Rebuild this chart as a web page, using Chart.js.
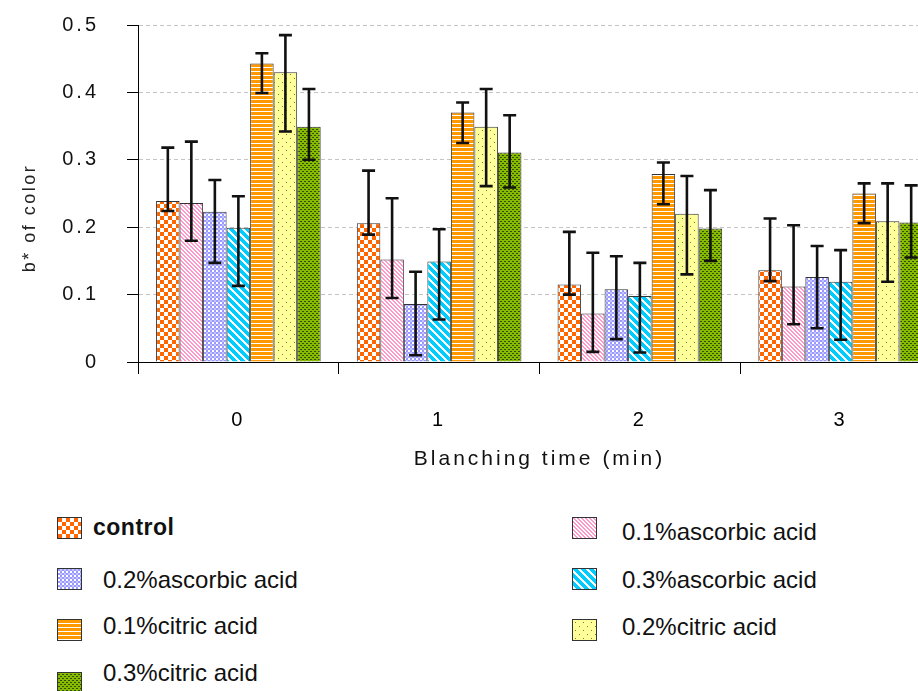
<!DOCTYPE html>
<html>
<head>
<meta charset="utf-8">
<script src="https://cdn.jsdelivr.net/npm/chart.js@4.4.0/dist/chart.umd.min.js"></script>
<style>
  body { margin: 0; width: 918px; height: 691px; overflow: hidden; position: relative; background: #fff; font-family: "Liberation Sans", Arial, sans-serif; }
  #wrap { position: absolute; left: 0; top: 0; width: 945px; height: 480px; }
  .sw { position: absolute; width: 25px; height: 22px; box-sizing: border-box; border: 1px solid #333; }
  .lt { position: absolute; font-size: 24px; line-height: 28px; color: #111; white-space: nowrap; }
</style>
</head>
<body>
<div id="wrap"><canvas id="chart"></canvas></div>
<div id="legend"></div>
<script>
const times = ['0', '1', '2', '3'];
const seriesNames = ['control', '0.1%ascorbic acid', '0.2%ascorbic acid', '0.3%ascorbic acid',
                     '0.1%citric acid', '0.2%citric acid', '0.3%citric acid'];
const yTicks = [0, 0.1, 0.2, 0.3, 0.4, 0.5];
const yTitle = 'b* of color';

// mean b* values per treatment, one entry per blanching time
const control  = [0.239, 0.206, 0.115, 0.136];
const ascorb01 = [0.236, 0.152, 0.072, 0.112];
const ascorb02 = [0.223, 0.086, 0.108, 0.126];
const ascorb03 = [0.199, 0.149, 0.098, 0.119];
const citric01 = [0.443, 0.370, 0.279, 0.250];
const citric02 = [0.430, 0.349, 0.220, 0.209];
const citric03 = [0.349, 0.311, 0.198, 0.207];

// error bar ends (upper / lower) as drawn
const errHigh = [
  [0.318, 0.284, 0.193, 0.213],
  [0.327, 0.243, 0.162, 0.203],
  [0.270, 0.134, 0.157, 0.172],
  [0.246, 0.197, 0.147, 0.166],
  [0.458, 0.385, 0.296, 0.265],
  [0.485, 0.405, 0.276, 0.265],
  [0.405, 0.366, 0.255, 0.262]
];
const errLow = [
  [0.224, 0.189, 0.100, 0.120],
  [0.180, 0.095, 0.015, 0.056],
  [0.147, 0.010, 0.034, 0.050],
  [0.113, 0.063, 0.014, 0.033],
  [0.399, 0.325, 0.234, 0.206],
  [0.342, 0.261, 0.130, 0.119],
  [0.300, 0.259, 0.150, 0.155]
];

const seriesData = [control, ascorb01, ascorb02, ascorb03, citric01, citric02, citric03];

// little tile canvases for the hatched fills
function tile(size, draw) {
  const c = document.createElement('canvas');
  c.width = size; c.height = size;
  const g = c.getContext('2d');
  g.fillStyle = '#fff';
  g.fillRect(0, 0, size, size);
  draw(g, size);
  return c;
}

const tiles = [
  tile(8, g => { g.fillStyle = '#ff6600'; g.fillRect(0, 0, 4, 4); g.fillRect(4, 4, 4, 4); }),
  tile(4, g => { g.fillStyle = '#ff99cc'; for (let i = 0; i < 4; i++) { g.fillRect(i, i, 2, 1); if (i == 3) g.fillRect(0, 3, 1, 1); } }),
  tile(4, g => { g.fillStyle = '#9999ff'; g.fillRect(0, 0, 2, 2); g.fillRect(2, 2, 2, 2); g.fillStyle = '#c4c4ff'; g.fillRect(2, 0, 2, 2); }),
  tile(8, g => { g.fillStyle = '#00ccff'; for (let y = 0; y < 8; y++) for (let x = 0; x < 8; x++) if ((x - y + 16) % 8 < 5) g.fillRect(x, y, 1, 1); }),
  tile(4, g => { g.fillStyle = '#ff9900'; g.fillRect(0, 0, 4, 3); }),
  tile(8, g => { g.fillStyle = '#ffff99'; g.fillRect(0, 0, 8, 8); g.fillStyle = '#77774a'; g.fillRect(2, 2, 1, 1); g.fillRect(6, 6, 1, 1); }),
  tile(4, g => { g.fillStyle = '#88bb00'; g.fillRect(0, 0, 4, 4); g.fillStyle = '#2f5200'; g.fillRect(0, 1, 2, 1); g.fillRect(2, 3, 2, 1); })
];

const ctx = document.getElementById('chart').getContext('2d');
const fills = tiles.map(t => ctx.createPattern(t, 'repeat'));

// the original text is spaced out a bit
const spacing = {
  id: 'spacing',
  beforeUpdate(chart) { chart.ctx.letterSpacing = '3px'; },
  beforeDraw(chart) { chart.ctx.letterSpacing = '3px'; }
};

const errorBars = {
  id: 'errorBars',
  afterDatasetsDraw(chart) {
    const c = chart.ctx;
    const ys = chart.scales.y;
    c.save();
    c.strokeStyle = '#111';
    c.lineWidth = 2.6;
    chart.data.datasets.forEach((ds, i) => {
      const meta = chart.getDatasetMeta(i);
      meta.data.forEach((bar, j) => {
        const top = ys.getPixelForValue(errHigh[i][j]);
        const bot = ys.getPixelForValue(errLow[i][j]);
        const x = bar.x;
        c.beginPath();
        c.moveTo(x, top); c.lineTo(x, bot);
        c.moveTo(x - 6.5, top); c.lineTo(x + 6.5, top);
        c.moveTo(x - 6.5, bot); c.lineTo(x + 6.5, bot);
        c.stroke();
      });
    });
    c.restore();
  },
  afterDraw(chart) {
    // y axis title, sits a bit below the middle of the axis in the original
    const c = chart.ctx;
    c.save();
    c.letterSpacing = '2.5px';
    c.font = '18px "Liberation Sans", Arial';
    c.fillStyle = '#222';
    c.translate(30, 218);
    c.rotate(-Math.PI / 2);
    c.textAlign = 'center';
    c.textBaseline = 'middle';
    c.fillText(yTitle, 0, 0);
    c.restore();
  }
};

new Chart(ctx, {
  type: 'bar',
  data: {
    labels: times,
    datasets: seriesNames.map((name, i) => ({
      label: name,
      data: seriesData[i],
      backgroundColor: fills[i],
      borderColor: '#333',
      borderWidth: 1,
      categoryPercentage: 0.82,
      barPercentage: 1
    }))
  },
  options: {
    responsive: true,
    maintainAspectRatio: false,
    animation: false,
    layout: { padding: { top: 25, right: 4, left: 0, bottom: 0 } },
    plugins: { legend: { display: false }, tooltip: { enabled: false } },
    scales: {
      x: {
        afterFit: s => { s.height = 118; },
        border: { display: true, color: '#000', width: 1 },
        grid: { display: true, drawOnChartArea: false, tickLength: 12, color: '#000', tickColor: '#000' },
        ticks: { color: '#000', padding: 34, font: { family: 'Liberation Sans, Arial', size: 20 } },
        title: { display: true, text: 'Blanching time (min)', color: '#111',
                 padding: { top: 8, bottom: 8 }, font: { family: 'Liberation Sans, Arial', size: 21 } }
      },
      y: {
        min: 0,
        max: 0.5,
        afterFit: s => { s.width = 138; s.paddingTop = 0; s.paddingBottom = 0; },
        afterBuildTicks: s => { s.ticks = yTicks.map(v => ({ value: v })); },
        border: { display: true, color: '#000', width: 1, dash: [4, 3] },
        grid: { color: '#c4c4c4', borderDash: [4, 3], tickLength: 11, tickColor: '#000', tickBorderDash: [] },
        ticks: { color: '#111', padding: 28, font: { family: 'Liberation Sans, Arial', size: 20 },
                 callback: v => String(v) },
        title: { display: false }
      }
    }
  },
  plugins: [spacing, errorBars]
});

// legend laid out like the original two columns
const legendPos = [
  { sx: 57, sy: 517, tx: 93, ty: 513, bold: true },
  { sx: 572, sy: 517, tx: 622, ty: 518 },
  { sx: 57, sy: 568, tx: 103, ty: 566 },
  { sx: 572, sy: 568, tx: 622, ty: 566 },
  { sx: 57, sy: 619, tx: 103, ty: 612 },
  { sx: 572, sy: 619, tx: 622, ty: 613 },
  { sx: 57, sy: 672, tx: 103, ty: 659 }
];
const legend = document.getElementById('legend');
seriesNames.forEach((name, i) => {
  const p = legendPos[i];
  const sw = document.createElement('canvas');
  sw.className = 'sw';
  sw.width = 23; sw.height = 20;
  sw.style.left = p.sx + 'px'; sw.style.top = p.sy + 'px';
  const g = sw.getContext('2d');
  g.fillStyle = g.createPattern(tiles[i], 'repeat');
  g.fillRect(0, 0, 23, 20);
  legend.appendChild(sw);
  const t = document.createElement('div');
  t.className = 'lt';
  t.textContent = name;
  t.style.left = p.tx + 'px'; t.style.top = p.ty + 'px';
  if (p.bold) { t.style.fontWeight = 'bold'; t.style.fontSize = '23px'; t.style.letterSpacing = '0.5px'; }
  legend.appendChild(t);
});
</script>
</body>
</html>
